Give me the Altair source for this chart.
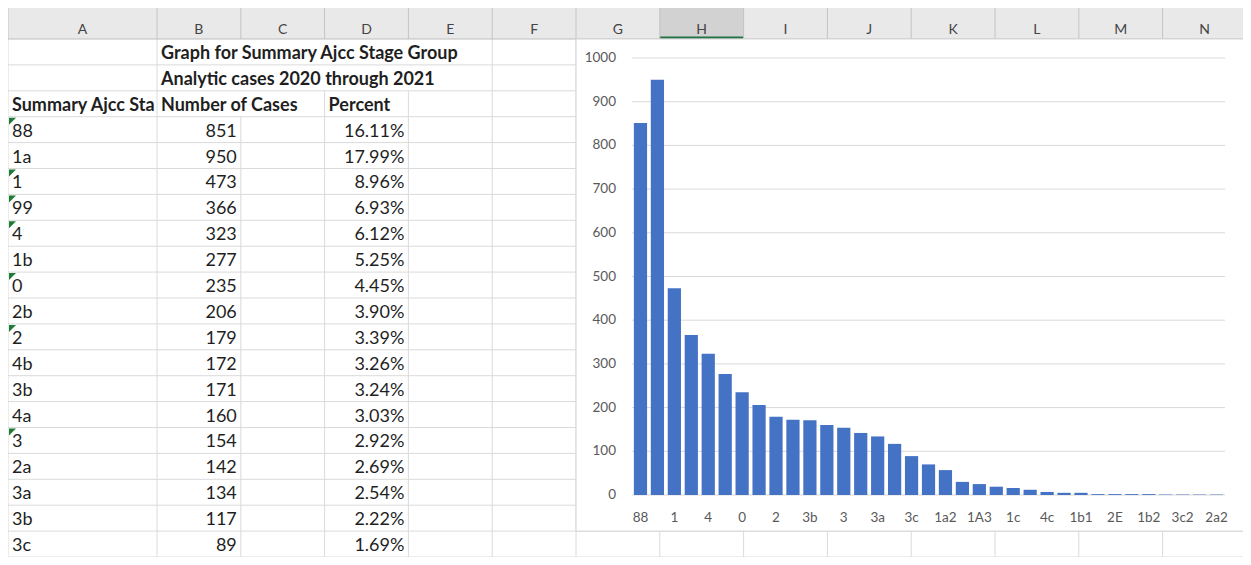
import json
import altair as alt
import pandas as pd

# ---------------- data ----------------
sheet_title = "Graph for Summary Ajcc Stage Group"
sheet_subtitle = "Analytic cases 2020 through 2021"
header_stage = "Summary Ajcc Stage Group"
header_cases = "Number of Cases"
header_percent = "Percent"

table_stages = ["88", "1a", "1", "99", "4", "1b", "0", "2b", "2", "4b",
                "3b", "4a", "3", "2a", "3a", "3b", "3c"]
table_cases = [851, 950, 473, 366, 323, 277, 235, 206, 179, 172,
               171, 160, 154, 142, 134, 117, 89]
table_percent = [16.11, 17.99, 8.96, 6.93, 6.12, 5.25, 4.45, 3.90, 3.39, 3.26,
                 3.24, 3.03, 2.92, 2.69, 2.54, 2.22, 1.69]

# remaining bars of the chart (only every other label is shown on the axis)
more_stages = ["2c", "1a2", "1A2", "1A3", "1a3", "1c", "1A1", "4c", "2a1",
               "1b1", "2b1", "2E", "1E", "1b2", "3c1", "3c2", "2b2", "2a2"]
more_cases = [70, 57, 30, 25, 19, 16, 12, 7, 5,
              5, 2, 2, 2, 2, 1, 1, 1, 1]

y_ticks = [0, 100, 200, 300, 400, 500, 600, 700, 800, 900, 1000]
column_letters = list("ABCDEFGHIJKLMN")
selected_column = "H"

# ---------------- layout (sheet pixels) ----------------
W, H = 1235, 549
COL_A_W, COL_W = 149.0, 83.8
HEADER_H, ROW_H, N_ROWS = 31.0, 25.9, 20
PLOT_X = [624, 1217]
PLOT_Y = [487, 50]
FONT = "Lato"
TEXT_C = "#1f1f1f"
GRID_C = "#dadada"
CELL_FS = 18
AXIS_FS = 13.5
AXIS_C = "#595959"

edges = [0.0]
for i, c in enumerate(column_letters):
    edges.append(edges[-1] + (COL_A_W if i == 0 else COL_W))


def col_left(c):
    return edges[column_letters.index(c)]


def col_right(c):
    return edges[column_letters.index(c) + 1]


def row_top(r):
    return HEADER_H + (r - 1) * ROW_H


def base_y(r):
    return row_top(r) + ROW_H - 6.0


SX = alt.Scale(domain=[0, W], range=[0, W], nice=False, zero=False)
SY = alt.Scale(domain=[0, H], range=[0, H], nice=False, zero=False)


def enc(**kw):
    out = {}
    for ch, f in kw.items():
        if ch == "x":
            out["x"] = alt.X(f + ":Q", scale=SX, axis=None)
        elif ch == "y":
            out["y"] = alt.Y(f + ":Q", scale=SY, axis=None)
        elif ch == "x2":
            out["x2"] = alt.X2(f + ":Q")
        elif ch == "y2":
            out["y2"] = alt.Y2(f + ":Q")
        elif ch == "text":
            out["text"] = alt.Text(f + ":N")
    return out


# header band
hdr = pd.DataFrame({"x": [0], "x2": [W], "y": [0], "y2": [HEADER_H]})
hdr_layer = alt.Chart(hdr).mark_rect(color="#e9e9e9").encode(**enc(x="x", x2="x2", y="y", y2="y2"))

sel = pd.DataFrame({"x": [col_left(selected_column)], "x2": [col_right(selected_column)],
                    "y": [0], "y2": [HEADER_H], "g": [HEADER_H - 2.5]})
sel_layer = alt.Chart(sel).mark_rect(color="#d2d2d2").encode(**enc(x="x", x2="x2", y="y", y2="y2"))
sel_line = alt.Chart(sel).mark_rect(color="#217346").encode(**enc(x="x", x2="x2", y="g", y2="y2"))

hdr_sep = pd.DataFrame({"x": edges, "y": [0] * len(edges), "y2": [HEADER_H] * len(edges)})
hdr_sep_layer = alt.Chart(hdr_sep).mark_rule(color="#c4c4c4").encode(**enc(x="x", y="y", y2="y2"))

hdr_txt = pd.DataFrame({"x": [(edges[i] + edges[i + 1]) / 2 for i in range(len(column_letters))],
                        "y": [HEADER_H - 5.5] * len(column_letters),
                        "t": column_letters})
hdr_txt_layer = alt.Chart(hdr_txt).mark_text(font=FONT, fontSize=14, color="#444444",
                                             baseline="alphabetic", align="center").encode(
    **enc(x="x", y="y", text="t"))

# horizontal grid lines
hg = pd.DataFrame({"y": [row_top(r) + ROW_H for r in range(1, N_ROWS + 1)]})
hg["x"] = 0
hg["x2"] = W
hgrid_layer = alt.Chart(hg).mark_rule(color=GRID_C).encode(**enc(x="x", x2="x2", y="y"))
hline = pd.DataFrame({"y": [HEADER_H], "x": [0], "x2": [W]})
hline_layer = alt.Chart(hline).mark_rule(color="#bdbdbd").encode(**enc(x="x", x2="x2", y="y"))

# vertical grid segments (hidden where text overflows into empty cells)
hidden = {(2, 1), (3, 1), (4, 1), (2, 2), (3, 2), (4, 2), (2, 3)}
segs = []
for b in range(len(edges)):
    for r in range(1, N_ROWS + 1):
        if (b, r) in hidden:
            continue
        segs.append({"x": edges[b], "y": row_top(r), "y2": row_top(r) + ROW_H})
vgrid_layer = alt.Chart(pd.DataFrame(segs)).mark_rule(
    color=GRID_C).encode(**enc(x="x", y="y", y2="y2"))

# cell texts
bold_left = pd.DataFrame({
    "x": [col_left("B") + 4, col_left("B") + 4, col_left("B") + 4, col_left("D") + 4],
    "y": [base_y(1), base_y(2), base_y(3), base_y(3)],
    "t": [sheet_title, sheet_subtitle, header_cases, header_percent]})
bold_left_layer = alt.Chart(bold_left).mark_text(
    font=FONT, fontSize=CELL_FS, fontWeight="bold", color=TEXT_C, align="left",
    baseline="alphabetic").encode(**enc(x="x", y="y", text="t"))

a_head = pd.DataFrame({"x": [col_left("A") + 4], "y": [base_y(3)], "t": [header_stage]})
a_head_layer = alt.Chart(a_head).mark_text(
    font=FONT, fontSize=CELL_FS, fontWeight="bold", color=TEXT_C, align="left",
    baseline="alphabetic", limit=COL_A_W - 4, ellipsis="\u200b").encode(
    **enc(x="x", y="y", text="t"))

rows = list(range(4, 4 + len(table_stages)))
stage_df = pd.DataFrame({"x": [col_left("A") + 4] * len(rows), "y": [base_y(r) for r in rows],
                         "t": table_stages})
stage_layer = alt.Chart(stage_df).mark_text(
    font=FONT, fontSize=CELL_FS, color=TEXT_C, align="left", baseline="alphabetic").encode(
    **enc(x="x", y="y", text="t"))

num_df = pd.DataFrame({
    "x": [col_right("B") - 4] * len(rows) + [col_right("D") - 4] * len(rows),
    "y": [base_y(r) for r in rows] * 2,
    "t": [str(v) for v in table_cases] + [f"{p:.2f}%" for p in table_percent]})
num_layer = alt.Chart(num_df).mark_text(
    font=FONT, fontSize=CELL_FS, color=TEXT_C, align="right", baseline="alphabetic").encode(
    **enc(x="x", y="y", text="t"))

# green "number stored as text" triangles
tri_rows = [r for r, s in zip(rows, table_stages) if s.isdigit()]
tri_df = pd.DataFrame({"x": [col_left("A") + 4.5] * len(tri_rows),
                       "y": [row_top(r) + 4.5 for r in tri_rows]})
tri_layer = alt.Chart(tri_df).mark_point(
    shape="M -1 -1 L 1 -1 L -1 1 Z", filled=True, size=49, color="#1e7b34",
    opacity=1, strokeWidth=0).encode(**enc(x="x", y="y"))

# chart area box (covers the cells under the chart)
box = pd.DataFrame({"x": [col_left("G")], "x2": [col_right("N")],
                    "y": [row_top(1)], "y2": [row_top(19) + ROW_H]})
box_layer = alt.Chart(box).mark_rect(fill="white", stroke="#d6d6d6", strokeWidth=1).encode(
    **enc(x="x", x2="x2", y="y", y2="y2"))

sheet = alt.layer(hdr_layer, sel_layer, sel_line, hdr_sep_layer, hdr_txt_layer,
                  hgrid_layer, vgrid_layer, hline_layer,
                  bold_left_layer, a_head_layer, stage_layer, num_layer, tri_layer,
                  box_layer)

# ---------------- the bar chart ----------------
stages = table_stages + more_stages
cases = table_cases + more_cases
bars_df = pd.DataFrame({"idx": list(range(len(stages))), "stage": stages, "cases": cases})
label_expr = json.dumps(stages) + "[datum.value]"

YS = alt.Scale(domain=[0, 1000], range=PLOT_Y, nice=False, zero=True)

grid_df = pd.DataFrame({"v": y_ticks})
grid_layer = alt.Chart(grid_df).mark_rule(color="#d9d9d9", strokeWidth=1).encode(
    y=alt.Y("v:Q", scale=YS, axis=None),
    x=alt.value(PLOT_X[0]), x2=alt.value(PLOT_X[1]))

# value-axis tick labels, placed through the value scale
ylab_layer = alt.Chart(grid_df).mark_text(
    font=FONT, fontSize=AXIS_FS, color=AXIS_C, align="right", baseline="middle").encode(
    y=alt.Y("v:Q", scale=YS, axis=None),
    x=alt.value(PLOT_X[0] - 16),
    text=alt.Text("v:Q"))

bars = alt.Chart(bars_df).mark_bar(color="#4472c4").encode(
    x=alt.X("idx:O",
            scale=alt.Scale(domain=list(range(len(stages))), range=PLOT_X,
                            paddingInner=0.22, paddingOuter=0.11),
            axis=alt.Axis(orient="bottom", offset=-50, values=list(range(0, len(stages), 2)),
                          labelExpr=label_expr, labelAngle=0, labelOverlap=False,
                          ticks=False, domain=False, grid=False, labelPadding=3,
                          labelFont=FONT, labelFontSize=AXIS_FS, labelColor=AXIS_C,
                          title=None, zindex=2)),
    y=alt.Y("cases:Q", scale=YS, axis=None),
    tooltip=["stage", "cases"])

chart_group = alt.layer(grid_layer, ylab_layer, bars)

chart = alt.layer(sheet, chart_group).resolve_scale(
    x="independent", y="independent"
).properties(
    width=W, height=H, padding=0, autosize=alt.AutoSizeParams(type="none")
).configure_view(stroke=None)

chart.save("out.html", embed_options={"renderer": "svg", "actions": False})
